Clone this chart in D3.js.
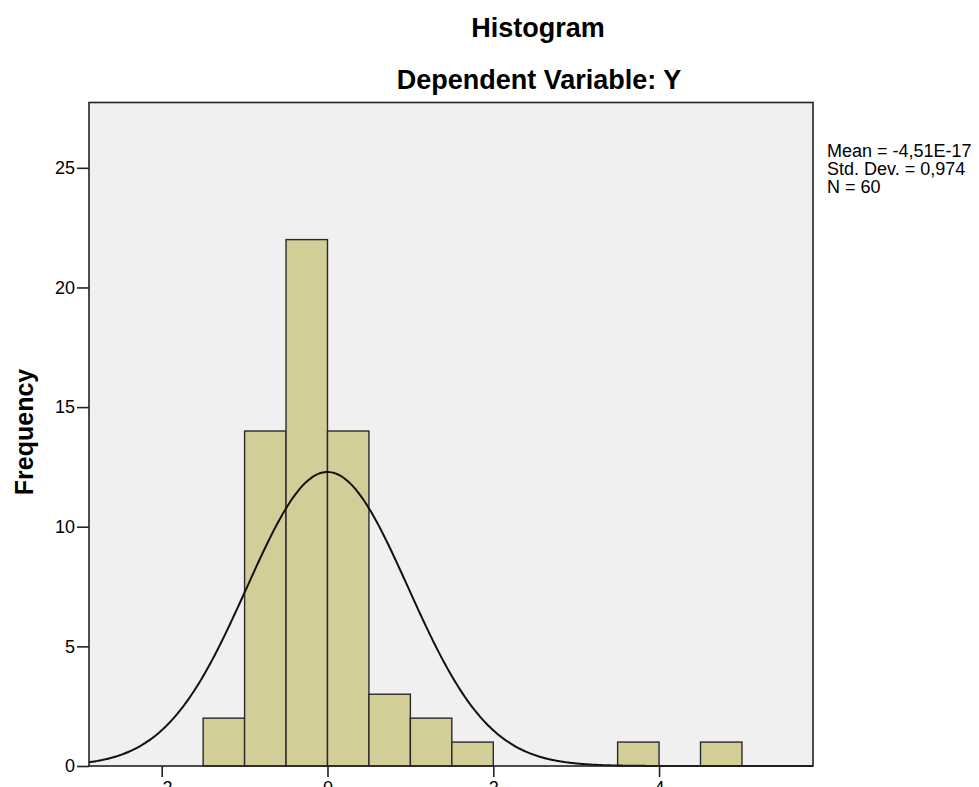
<!DOCTYPE html>
<html>
<head>
<meta charset="utf-8">
<script src="https://cdn.jsdelivr.net/npm/d3@7/dist/d3.min.js"></script>
<style>
  html, body { margin: 0; padding: 0; background: #fff; }
  svg { display: block; }
  text { font-family: "Liberation Sans", Arial, sans-serif; fill: #000; }
</style>
</head>
<body>
<svg id="chart" width="979" height="787"></svg>
<script>
// ---- data ----
const binStarts = [-1.5, -1.0, -0.5, 0.0, 0.5, 1.0, 1.5, 2.0, 2.5, 3.0, 3.5, 4.0, 4.5];
const binCounts = [2, 14, 22, 14, 3, 2, 1, 0, 0, 0, 1, 0, 1];
const binWidth = 0.5;
const xTicks = [-2, 0, 2, 4];
const yTicks = [0, 5, 10, 15, 20, 25];
const statsLines = ["Mean = -4,51E-17", "Std. Dev. = 0,974", "N = 60"];
const meanVal = -4.51e-17;
const sdVal = 0.974;
const nVal = 60;

// ---- layout ----
const svg = d3.select("#chart");
const plot = { left: 89, top: 102.5, right: 813, bottom: 766 };

const x = d3.scaleLinear().domain([-2.877, 5.857]).range([plot.left, plot.right]);
const y = d3.scaleLinear().domain([0, 27.73]).range([plot.bottom, plot.top]);

// plot background
svg.append("rect")
  .attr("x", plot.left).attr("y", plot.top)
  .attr("width", plot.right - plot.left).attr("height", plot.bottom - plot.top)
  .attr("fill", "#f0f0f0");

// bars
const bins = binStarts.map((s, i) => ({ x0: s, x1: s + binWidth, n: binCounts[i] })).filter(d => d.n > 0);
svg.append("g").selectAll("rect").data(bins).join("rect")
  .attr("x", d => x(d.x0))
  .attr("y", d => y(d.n))
  .attr("width", d => x(d.x1) - x(d.x0))
  .attr("height", d => y(0) - y(d.n))
  .attr("fill", "#d3ce97")
  .attr("stroke", "#2a2a2a")
  .attr("stroke-width", 1.4);

// normal curve
const dens = v => nVal * binWidth / (sdVal * Math.sqrt(2 * Math.PI)) * Math.exp(-0.5 * Math.pow((v - meanVal) / sdVal, 2));
const xs = d3.range(0, 401).map(i => x.domain()[0] + (x.domain()[1] - x.domain()[0]) * i / 400);
svg.append("path")
  .datum(xs)
  .attr("fill", "none")
  .attr("stroke", "#111")
  .attr("stroke-width", 2)
  .attr("d", d3.line().x(d => x(d)).y(d => y(dens(d))).curve(d3.curveBasis));

// plot border
svg.append("rect")
  .attr("x", plot.left).attr("y", plot.top)
  .attr("width", plot.right - plot.left).attr("height", plot.bottom - plot.top)
  .attr("fill", "none").attr("stroke", "#222").attr("stroke-width", 1.6);

// y axis
const yAxis = d3.axisLeft(y).tickValues(yTicks).tickSize(12).tickPadding(2).tickFormat(d3.format("d"));
const gy = svg.append("g").attr("transform", `translate(${plot.left},0)`).call(yAxis);
gy.select(".domain").remove();
gy.selectAll(".tick line").attr("stroke", "#222").attr("stroke-width", 1.6);
gy.selectAll(".tick text").style("font-size", "18px").attr("fill", "#000")
  .style("font-family", '"Liberation Sans", Arial, sans-serif');

// x axis
const xAxis = d3.axisBottom(x).tickValues(xTicks).tickSize(11).tickPadding(4).tickFormat(d3.format("d"));
const gx = svg.append("g").attr("transform", `translate(0,${plot.bottom})`).call(xAxis);
gx.select(".domain").remove();
gx.selectAll(".tick line").attr("stroke", "#222").attr("stroke-width", 1.6);
gx.selectAll(".tick text").style("font-size", "18px").attr("fill", "#000")
  .style("font-family", '"Liberation Sans", Arial, sans-serif');

// y label
svg.append("text")
  .attr("transform", "translate(33,432) rotate(-90)")
  .attr("text-anchor", "middle")
  .style("font-size", "25px").style("font-weight", "bold")
  .text("Frequency");

// titles
svg.append("text").attr("x", 538).attr("y", 37).attr("text-anchor", "middle")
  .style("font-size", "27px").style("font-weight", "bold").text("Histogram");
svg.append("text").attr("x", 539).attr("y", 89).attr("text-anchor", "middle")
  .style("font-size", "27px").style("font-weight", "bold").text("Dependent Variable: Y");

// stats legend
svg.append("g").selectAll("text").data(statsLines).join("text")
  .attr("x", 827)
  .attr("y", (d, i) => 157 + i * 18)
  .style("font-size", "18px")
  .text(d => d);
</script>
</body>
</html>
